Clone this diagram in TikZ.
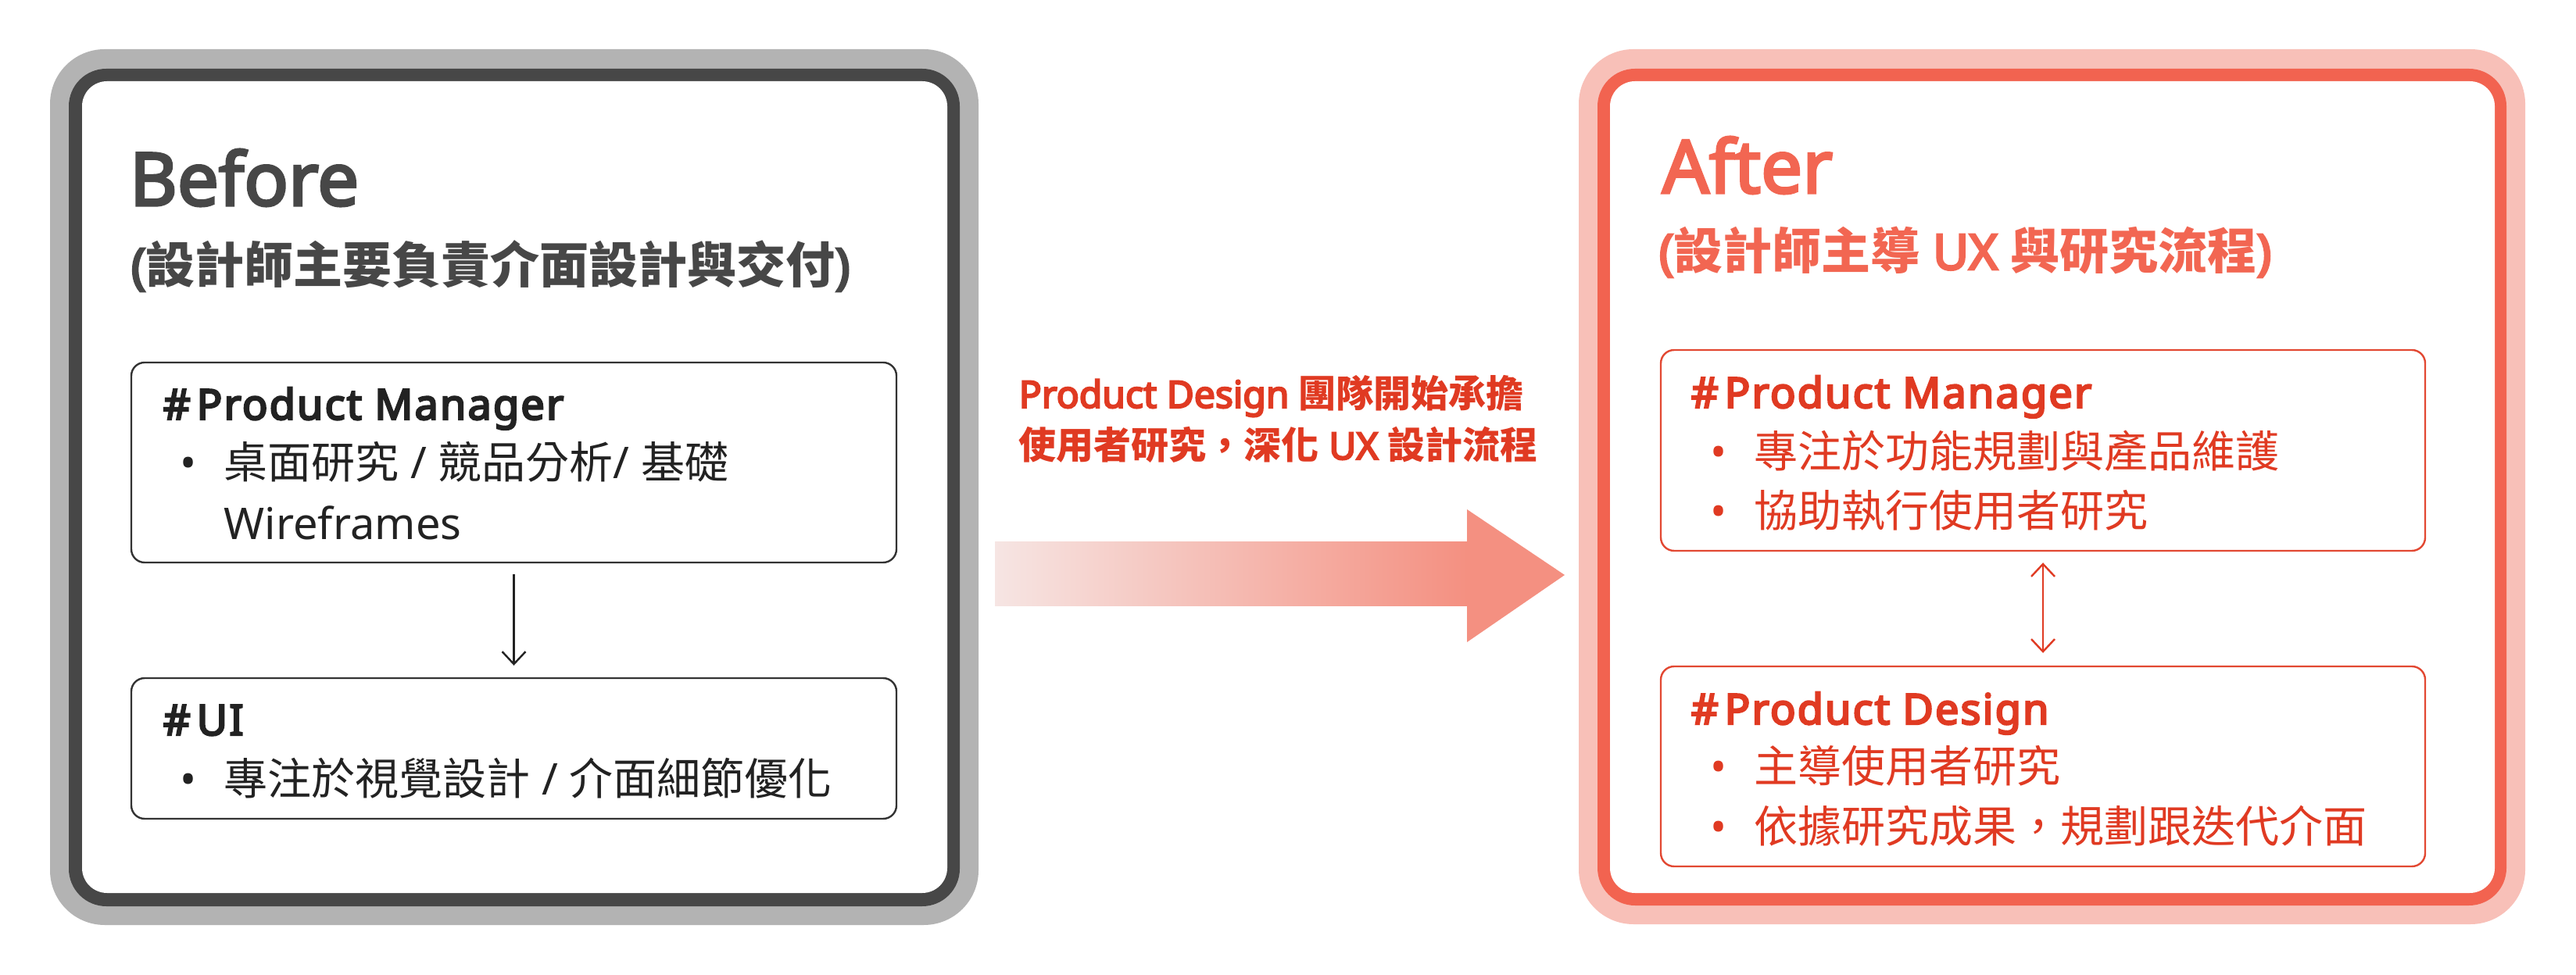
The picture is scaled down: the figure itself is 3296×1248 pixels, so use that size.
\documentclass[tikz,border=0pt]{standalone}
\usepackage{fontspec}
\setmainfont{Noto Sans}[BoldFont={Noto Sans}, BoldFeatures={FakeBold=4.5}]
\newfontfamily\ttlfont{Noto Sans}[FakeBold=3.5]
\newfontfamily\hdfont{Noto Sans}[FakeBold=4.5, LetterSpace=4]
\newfontfamily\cjk{Noto Sans CJK TC}
\usetikzlibrary{arrows.meta}
\definecolor{greyband}{RGB}{179,179,179}
\definecolor{darkband}{RGB}{71,71,71}
\definecolor{pinkband}{RGB}{248,192,184}
\definecolor{redband}{RGB}{242,99,80}
\definecolor{txtdark}{RGB}{34,34,34}
\definecolor{boxdark}{RGB}{51,51,51}
\definecolor{titlegrey}{RGB}{71,71,71}
\definecolor{coral}{RGB}{242,102,82}
\definecolor{redtxt}{RGB}{224,58,34}
\definecolor{redline}{RGB}{226,72,50}
\definecolor{arrowlight}{RGB}{246,229,227}
\definecolor{arrowdark}{RGB}{244,144,129}
\newcommand\fsz[1]{\fontsize{#1}{#1}\selectfont}
\begin{document}
\begin{tikzpicture}[x=0.25pt,y=-0.25pt,
  titletxt/.style={anchor=base west, inner sep=0pt, font=\fsz{23.5pt}\ttlfont},
  subtxt/.style={anchor=base west, inner sep=0pt, font=\fsz{15.75pt}\bfseries},
  headtxt/.style={anchor=base west, inner sep=0pt, font=\fsz{13.5pt}\hdfont},
  bodytxt/.style={anchor=base west, inner sep=0pt, font=\fsz{14pt}},
  dottxt/.style={anchor=base, inner sep=0pt, font=\fsz{14pt}},
  midtxt/.style={anchor=base west, inner sep=0pt, font=\fsz{12pt}\bfseries, text=redtxt},
  card/.style={draw, rounded corners=4.25pt, line width=0.6pt, minimum width=244.75pt, inner sep=0pt},
  conn/.style={line width=0.6pt, -{Straight Barb[length=4pt,width=7.5pt]}},
  conn2/.style={line width=0.6pt, {Straight Barb[length=4pt,width=7.5pt]}-{Straight Barb[length=4pt,width=7.5pt]}},
]
\useasboundingbox (0,0) rectangle (3296,1248);
\fill[white] (0,0) rectangle (3296,1248);

% ---- left frame
\fill[greyband, rounded corners=17.5pt] (64,63) rectangle (1252,1184);
\fill[darkband, rounded corners=12pt] (88,88) rectangle (1228,1160);
\fill[white, rounded corners=8pt] (105,104) rectangle (1212,1143);

% ---- right frame
\fill[pinkband, rounded corners=17.5pt] (2020,63) rectangle (3231,1183);
\fill[redband, rounded corners=12pt] (2044,88) rectangle (3207,1159);
\fill[white, rounded corners=8pt] (2060,104) rectangle (3192,1143);

% ---- left content
\node[titletxt, text=titlegrey] (before) at (165,263) {Before};
\node[subtxt, text=titlegrey] (beforesub) at (167,363) {({\cjk 設計師主要負責介面設計與交付})};

\node[card, draw=boxdark, minimum height=64pt] (lpm) at (657.5,592) {};
\node[headtxt, text=txtdark] (lpmh) at (208,537) {\#\kern2pt Product Manager};
\node[dottxt, text=txtdark] (lpmd) at (241,613) {•};
\node[bodytxt, text=txtdark] (lpma) at (286,613) {{\cjk 桌面研究} / {\cjk 競品分析}/ {\cjk 基礎}};
\node[bodytxt, text=txtdark] (lpmb) at (286,691) {Wireframes};

\node[card, draw=boxdark, minimum height=45pt] (lui) at (657.5,958) {};
\node[headtxt, text=txtdark] (luih) at (208,941) {\#\kern2pt UI};
\node[dottxt, text=txtdark] (luid) at (241,1018) {•};
\node[bodytxt, text=txtdark] (luia) at (286,1018) {{\cjk 專注於視覺設計} / {\cjk 介面細節優化}};

\draw[conn, draw=txtdark, shorten <=3.5pt, shorten >=3.75pt] (lpm.south) -- (lui.north);

% ---- middle
\node[midtxt] (mida) at (1303,522) {Product Design {\cjk 團隊開始承擔}};
\node[midtxt] (midb) at (1303,588) {{\cjk 使用者研究，深化} UX {\cjk 設計流程}};
\coordinate (ashaftA) at (1273,694);
\coordinate (ashaftB) at (1878,776);
\shade[left color=arrowlight, right color=arrowdark] (ashaftA) rectangle (ashaftB);
\fill[arrowdark] (1877,652) -- (2002,736) -- (1877,822) -- cycle;

% ---- right content
\node[titletxt, text=coral] (after) at (2126,247) {After};
\node[subtxt, text=coral] (aftersub) at (2122,345) {({\cjk 設計師主導} UX {\cjk 與研究流程})};

\node[card, draw=redline, minimum width=244.5pt, minimum height=64.25pt] (rpm) at (2614,576.5) {};
\node[headtxt, text=redtxt] (rpmh) at (2163,522) {\#\kern2pt Product Manager};
\node[dottxt, text=redtxt] (rpmd1) at (2199,599) {•};
\node[bodytxt, text=redtxt] (rpma) at (2244,599) {\cjk 專注於功能規劃與產品維護};
\node[dottxt, text=redtxt] (rpmd2) at (2199,675) {•};
\node[bodytxt, text=redtxt] (rpmb) at (2244,675) {\cjk 協助執行使用者研究};

\node[card, draw=redline, minimum width=244.5pt, minimum height=64pt] (rpd) at (2614,981) {};
\node[headtxt, text=redtxt] (rpdh) at (2163,927) {\#\kern2pt Product Design};
\node[dottxt, text=redtxt] (rpdd1) at (2199,1002) {•};
\node[bodytxt, text=redtxt] (rpda) at (2244,1002) {\cjk 主導使用者研究};
\node[dottxt, text=redtxt] (rpdd2) at (2199,1078) {•};
\node[bodytxt, text=redtxt] (rpdb) at (2244,1078) {\cjk 依據研究成果，規劃跟迭代介面};

\draw[conn2, draw=redtxt, shorten <=3.5pt, shorten >=4pt] (rpm.south) -- (rpd.north);
\end{tikzpicture}
\end{document}
